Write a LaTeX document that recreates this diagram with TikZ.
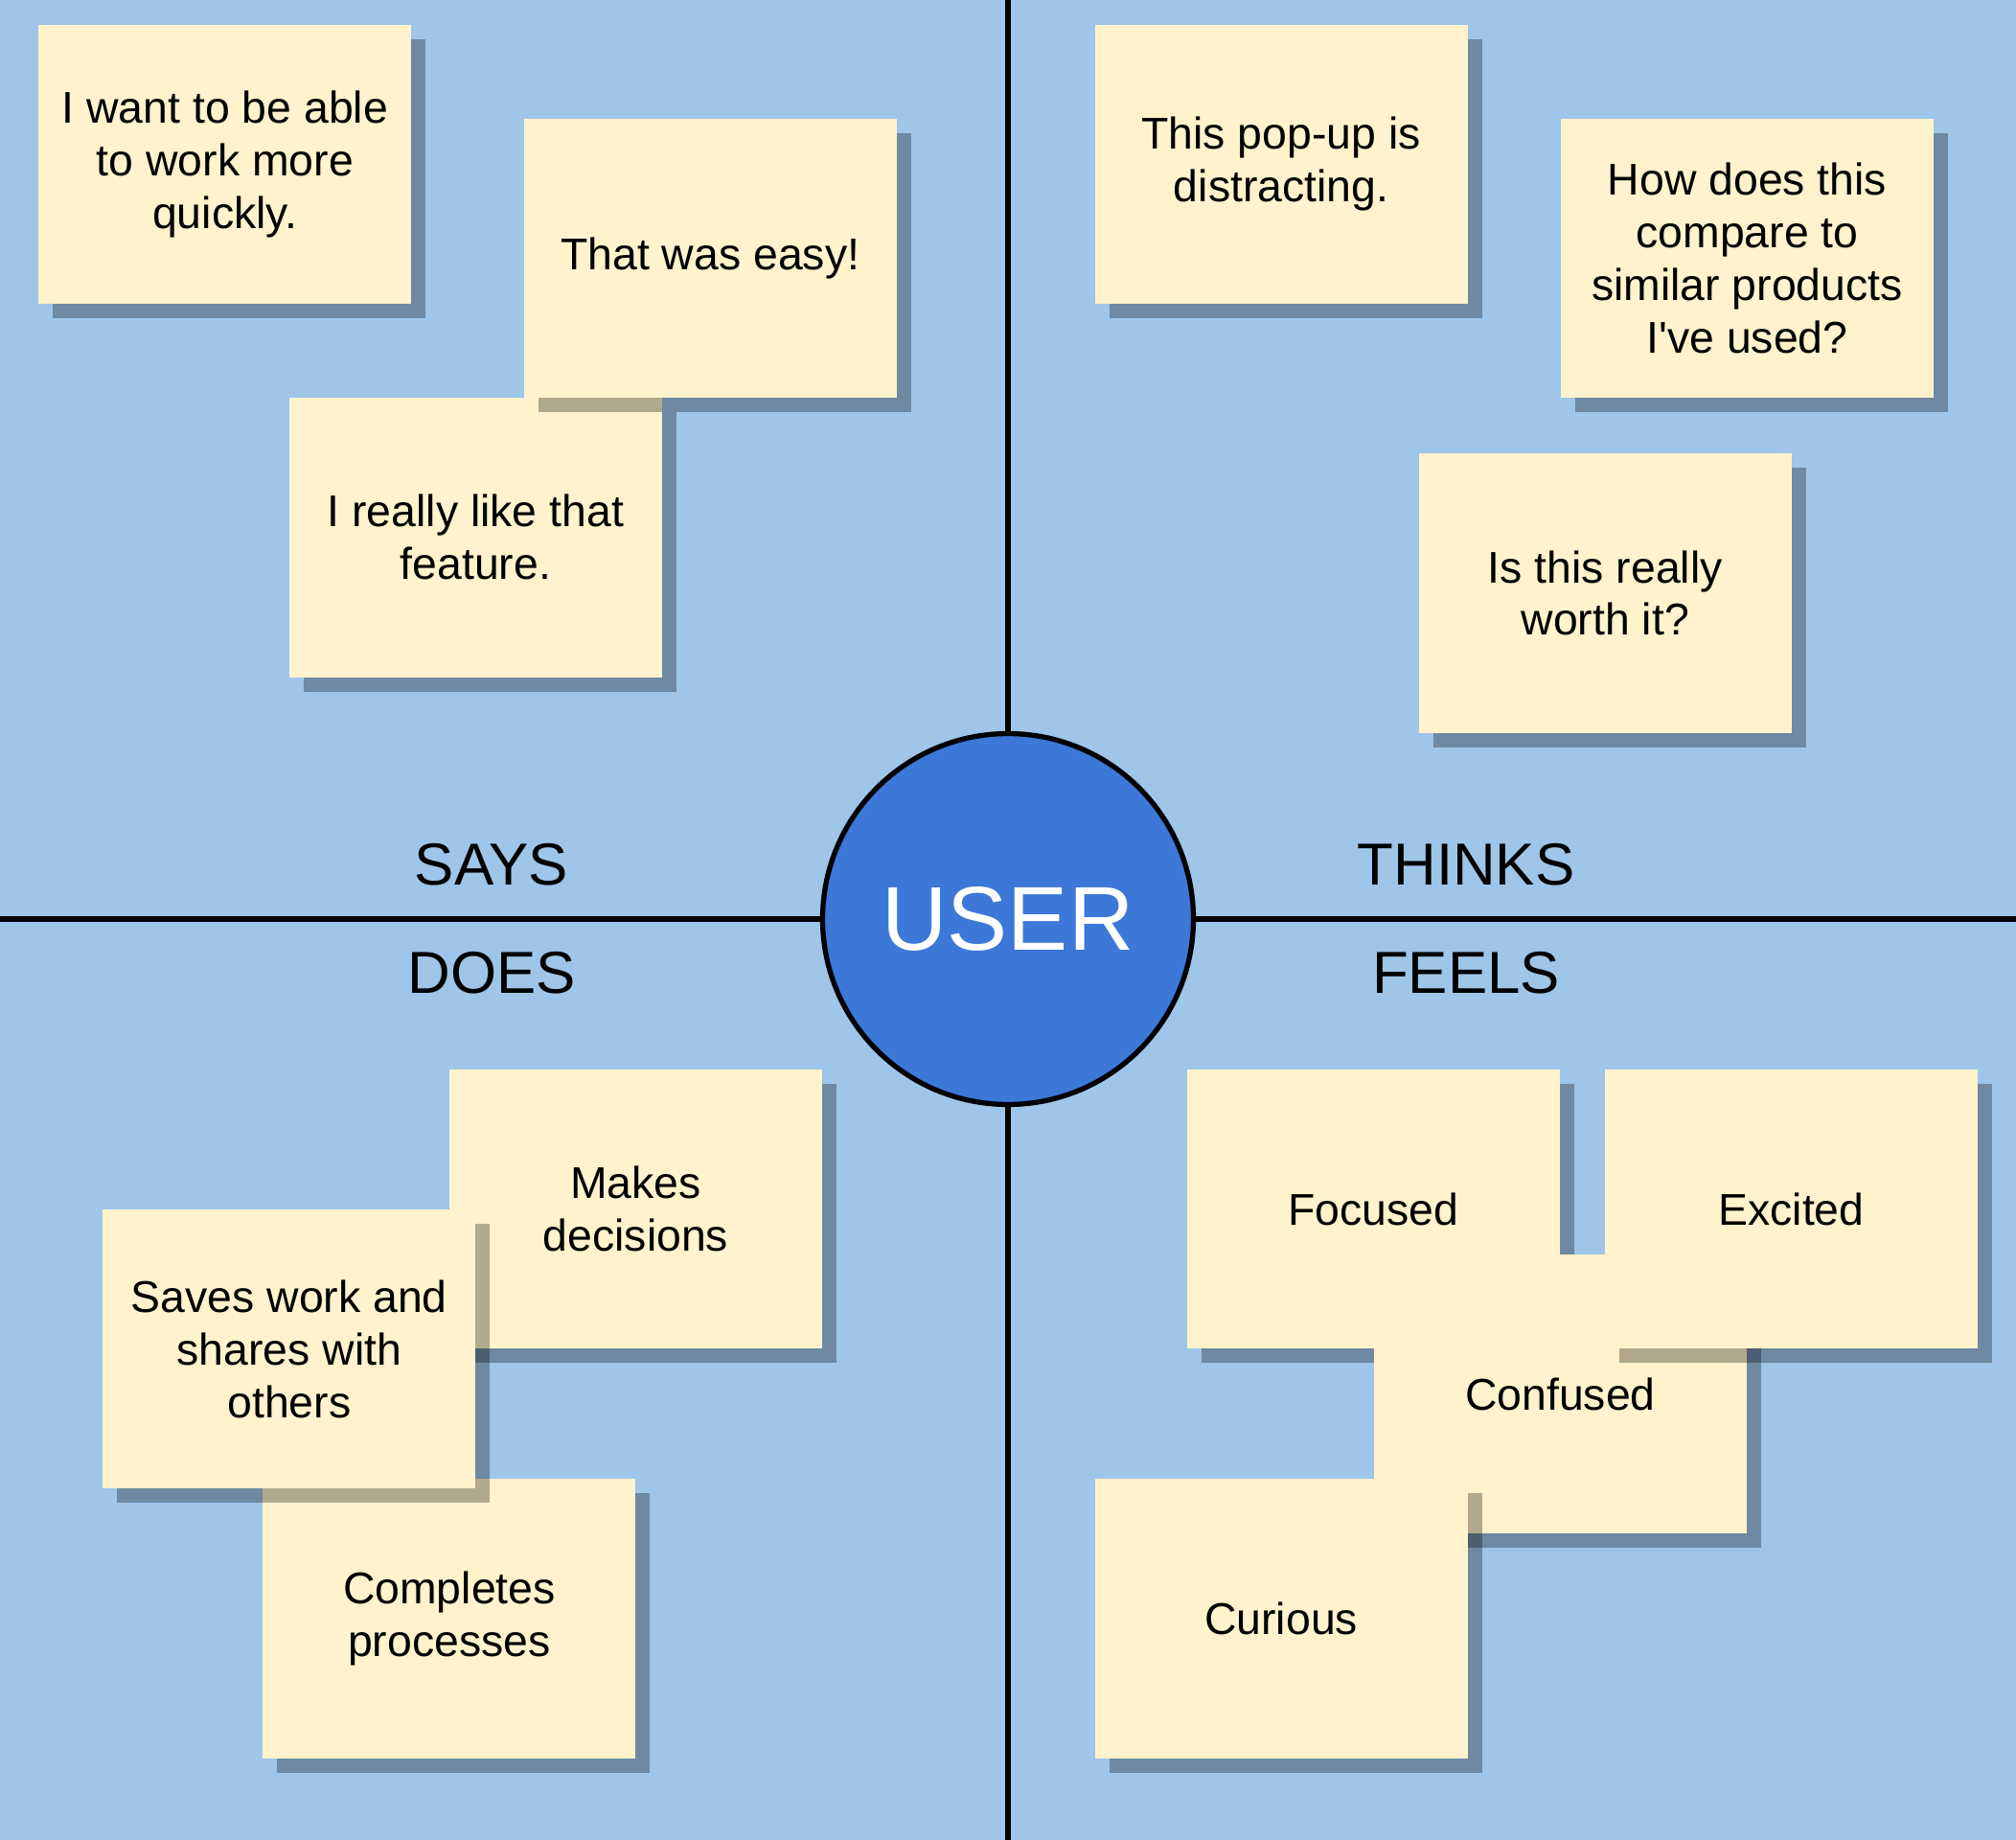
\documentclass[tikz,border=0pt]{standalone}
\usepackage{fontspec}
\newfontfamily\arialfont{Liberation Sans}
\usetikzlibrary{shadows}
\definecolor{board}{HTML}{9FC5E8}
\definecolor{notecolor}{HTML}{FFF2CC}
\definecolor{usercolor}{HTML}{3C78D8}
\tikzstyle{sticky} = [rectangle, 
minimum width=3.89cm, 
minimum height=2.915cm, 
inner sep=0pt, 
align=center, 
fill=notecolor, 
font=\arialfont\fontsize{13.2}{15.6}\selectfont,
drop shadow={shadow xshift=0.15cm, shadow yshift=-0.15cm, opacity=0.3, fill=black}]
\tikzstyle{quadrant} = [inner sep=0pt, 
font=\arialfont\fontsize{17.6}{21}\selectfont]
\tikzstyle{hub} = [circle, 
minimum size=3.87cm, 
inner sep=0pt, 
fill=usercolor, 
draw=black, 
line width=1.5pt, 
text=white, 
font=\arialfont\fontsize{26.9}{30}\selectfont]
\tikzstyle{divider} = [line width=1.5pt, draw=black]

\begin{document}
\begin{tikzpicture}

        \useasboundingbox (0,0) rectangle (21.04,-19.2);
        \fill [board] (0,0) rectangle (21.04,-19.2);

        % --- Centro y bordes ---
        \node (user) [hub] at (10.52,-9.59) {USER};
        \coordinate (top) at (10.52,0);
        \coordinate (bottom) at (10.52,-19.2);
        \coordinate (left) at (0,-9.59);
        \coordinate (right) at (21.04,-9.59);

        \draw [divider] (user) -- (top);
        \draw [divider] (user) -- (bottom);
        \draw [divider] (user) -- (left);
        \draw [divider] (user) -- (right);

        % --- Cuadrantes ---
        \node (says) [quadrant] at (5.13,-9.02) {SAYS};
        \node (thinks) [quadrant] at (15.30,-9.02) {THINKS};
        \node (does) [quadrant] at (5.13,-10.15) {DOES};
        \node (feels) [quadrant] at (15.30,-10.15) {FEELS};

        % --- Notas: says ---
        \node (want) [sticky] at (2.348,-1.714) {I want to be able\\to work more\\quickly.};
        \node (likeit) [sticky] at (4.964,-5.608) {I really like that\\feature.};
        \node (easy) [sticky] at (7.413,-2.694) {That was easy!};

        % --- Notas: thinks ---
        \node (popup) [sticky] at (13.371,-1.714) {This pop-up is\\distracting.};
        \node (compare) [sticky] at (18.235,-2.694) {How does this\\compare to\\similar products\\I've used?};
        \node (worth) [sticky] at (16.752,-6.190) {Is this really\\worth it?};

        % --- Notas: does ---
        \node (decide) [sticky] at (6.635,-12.617) {Makes\\decisions};
        \node (completes) [sticky] at (4.689,-16.892) {Completes\\processes};
        \node (saves) [sticky] at (3.018,-14.077) {Saves work and\\shares with\\others};

        % --- Notas: feels ---
        \node (focused) [sticky] at (14.335,-12.617) {Focused};
        \node (confused) [sticky] at (16.285,-14.547) {Confused};
        \node (excited) [sticky] at (18.695,-12.617) {Excited};
        \node (curious) [sticky] at (13.371,-16.892) {Curious};

    \end{tikzpicture}
\end{document}
